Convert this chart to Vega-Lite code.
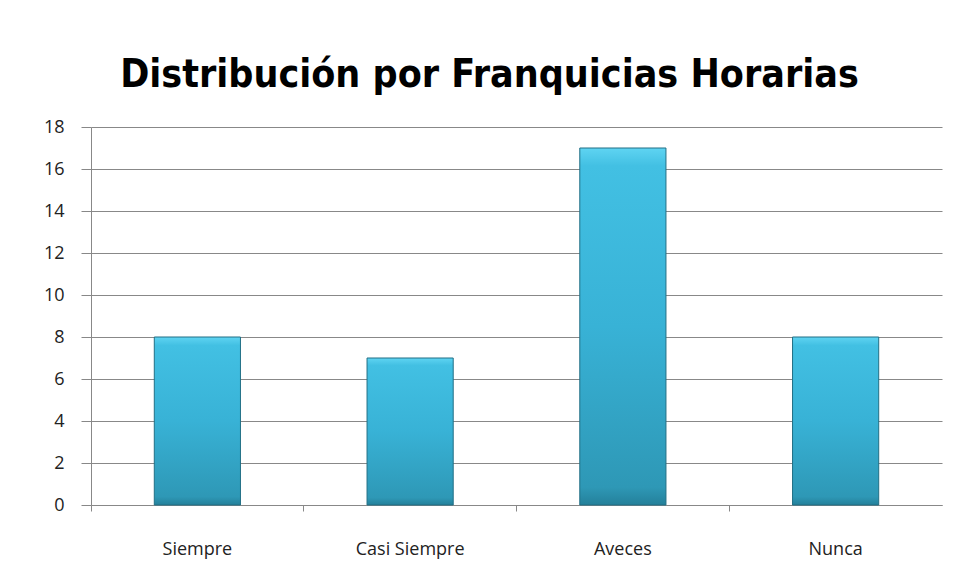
{
  "$schema": "https://vega.github.io/schema/vega-lite/v6.json",
  "autosize": "none",
  "width": 851,
  "height": 378,
  "padding": {"left": 91, "top": 127, "right": 15, "bottom": 80},
  "background": "white",
  "title": {
    "text": "Distribución por Franquicias Horarias",
    "font": "DejaVu Sans Condensed",
    "fontWeight": "bold",
    "fontSize": 39,
    "color": "#000000",
    "anchor": "middle",
    "frame": "group",
    "dx": -27,
    "dy": 44,
    "baseline": "bottom",
    "offset": 28
  },
  "data": {
    "values": [
      {"categoria": "Siempre", "valor": 8},
      {"categoria": "Casi Siempre", "valor": 7},
      {"categoria": "Aveces", "valor": 17},
      {"categoria": "Nunca", "valor": 8}
    ]
  },
  "mark": {
    "type": "bar",
    "width": {"band": 0.405},
    "stroke": "#216f85",
    "strokeWidth": 1,
    "color": {
      "gradient": "linear",
      "x1": 0, "y1": 0, "x2": 0, "y2": 1,
      "stops": [
        {"offset": 0, "color": "#5fd4f2"},
        {"offset": 0.05, "color": "#42c0e3"},
        {"offset": 0.5, "color": "#38b2d6"},
        {"offset": 0.95, "color": "#2e98b6"},
        {"offset": 1, "color": "#24809a"}
      ]
    }
  },
  "encoding": {
    "x": {
      "field": "categoria",
      "type": "nominal",
      "sort": null,
      "scale": {"paddingInner": 0, "paddingOuter": 0},
      "axis": {
        "title": null,
        "labelAngle": 0,
        "bandPosition": 0,
        "labelFont": "Open Sans",
        "labelFontSize": 18,
        "labelColor": "#222222",
        "labelPadding": 29,
        "labelOffset": 0,
        "domainColor": "#888888",
        "tickColor": "#888888",
        "tickSize": 6,
        "grid": false
      }
    },
    "y": {
      "field": "valor",
      "type": "quantitative",
      "scale": {"domain": [0, 18], "nice": false},
      "axis": {
        "title": null,
        "values": [0, 2, 4, 6, 8, 10, 12, 14, 16, 18],
        "labelFont": "Open Sans",
        "labelFontSize": 18,
        "labelColor": "#222222",
        "labelPadding": 17,
        "tickSize": 10,
        "tickColor": "#888888",
        "domainColor": "#888888",
        "gridColor": "#888888",
        "gridOpacity": 1
      }
    }
  },
  "config": {
    "view": {"stroke": null}
  }
}
